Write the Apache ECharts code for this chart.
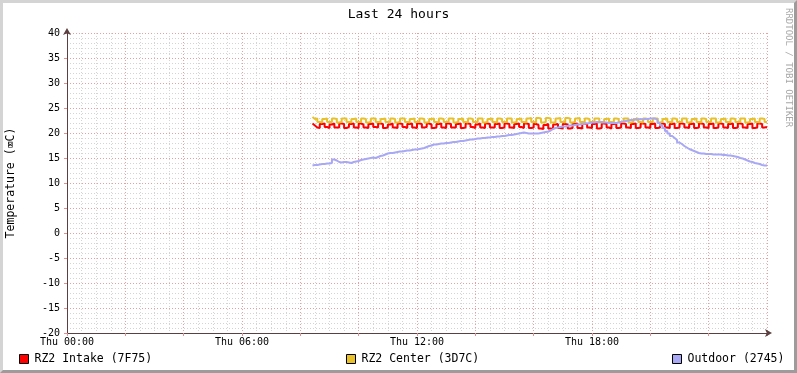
<!DOCTYPE html>
<html>
<head>
<meta charset="utf-8">
<script src="https://cdn.jsdelivr.net/npm/echarts@6/dist/echarts.min.js"></script>
<style>
html,body{margin:0;padding:0;background:#fff;}
#wrap{position:relative;width:797px;height:373px;}
#chart{position:absolute;left:0;top:0;width:797px;height:373px;}
#frame{position:absolute;left:0;top:0;width:797px;height:373px;box-sizing:border-box;border-style:solid;border-width:3px;border-color:#d4d4d4 #9c9c9c #9c9c9c #d4d4d4;pointer-events:none;}
</style>
</head>
<body>
<div id="wrap"><div id="chart"></div><div id="frame"></div></div>
<script>
// ---- data ----
const titleText = 'Last 24 hours';
const yAxisName = 'Temperature (\u2327C)';
const xTickLabels = {0:'Thu 00:00', 360:'Thu 06:00', 720:'Thu 12:00', 1080:'Thu 18:00'};
const seriesNames = ['RZ2 Intake (7F75)', 'RZ2 Center (3D7C)', 'Outdoor (2745)'];
const startMinute = 505;   // first sample (minutes since Thu 00:00)
const stepMinutes = 5;     // sample step

const intake = [
21.9,21.5,21.1,21.0, 21.8,21.9,21.2,21.0, 21.7,21.9,21.1,21.1, 21.9,21.8,21.0,21.2, 21.8,21.9,21.1,21.0,
21.9,21.7,21.1,21.0, 21.8,21.9,21.2,21.1, 21.9,21.8,21.0,21.1, 21.7,21.9,21.1,21.0, 21.9,21.8,21.2,21.0,
21.8,21.9,21.1,21.0, 21.9,21.8,21.1,21.2, 21.9,21.7,21.0,21.1, 21.8,21.9,21.1,21.0, 21.9,21.8,21.1,21.1,
21.8,21.9,21.0,21.1, 21.9,21.8,21.2,21.0, 21.7,21.9,21.1,21.0, 21.9,21.8,21.1,21.1, 21.8,21.9,21.0,21.1,
21.9,21.8,21.1,21.0, 21.8,21.9,21.2,21.0, 21.9,21.8,21.0,21.1, 21.8,21.6,20.9,20.8, 21.6,21.8,20.9,20.8,
21.7,21.8,21.0,20.9, 21.8,21.7,20.9,21.0, 21.8,21.9,21.0,20.9, 21.9,21.8,21.1,21.0, 21.8,21.9,20.9,21.0,
21.9,21.8,21.1,20.9, 21.8,21.9,21.0,21.1, 21.9,21.8,21.1,21.0, 21.8,21.9,21.0,21.1, 21.9,21.8,21.1,21.0,
21.8,21.9,21.0,21.1, 21.9,21.8,21.1,21.0, 21.8,21.9,21.0,21.1, 21.9,21.8,21.1,21.0, 21.8,21.9,21.0,21.1,
21.9,21.8,21.1,21.0, 21.8,21.9,21.0,21.1, 21.9,21.8,21.1,21.0, 21.8,21.9,21.0,21.1, 21.9,21.8,21.1,21.0,
21.8,21.9,21.0,21.1, 21.9,21.8,21.1,21.2
];
const center = [
23.2,22.8,22.9,22.2, 22.1,22.8,22.9,22.2, 22.2,22.9,22.8,22.1, 22.2,22.9,22.9,22.2, 22.1,22.8,22.9,22.2,
22.2,22.9,22.8,22.1, 22.2,22.9,22.9,22.2, 22.1,22.8,22.9,22.2, 22.2,22.9,22.8,22.1, 22.2,22.9,22.9,22.2,
22.1,22.8,22.9,22.2, 22.2,22.9,22.8,22.1, 22.2,22.8,22.9,22.2, 22.1,22.9,22.8,22.2, 22.2,22.9,22.9,22.1,
22.2,22.8,22.9,22.2, 22.1,22.9,22.8,22.2, 22.2,22.9,22.9,22.1, 22.2,22.8,22.9,22.2, 22.1,22.9,22.8,22.2,
22.2,22.9,22.9,22.1, 22.2,22.8,22.9,22.2, 22.1,22.9,23.0,22.2, 22.1,23.0,22.9,22.1, 22.2,23.0,22.9,22.1,
22.1,22.9,23.0,22.2, 22.1,23.0,22.9,22.1, 22.2,22.9,23.0,22.2, 22.1,22.9,22.8,22.2, 22.2,22.9,22.9,22.1,
22.2,22.8,22.9,22.2, 22.1,22.9,22.8,22.2, 22.2,22.9,22.9,22.1, 22.2,22.8,22.9,22.2, 22.1,22.9,22.8,22.2,
22.2,22.9,22.9,22.1, 22.2,22.8,22.9,22.2, 22.1,22.9,22.8,22.2, 22.2,22.9,22.9,22.1, 22.2,22.8,22.9,22.2,
22.1,22.9,22.8,22.2, 22.2,22.9,22.9,22.1, 22.2,22.8,22.9,22.2, 22.1,22.9,22.8,22.2, 22.2,22.9,22.9,22.1,
22.2,22.8,22.9,22.2, 22.1,22.9,22.8,22.2
];
const outdoor = [
13.5,13.6,13.6,13.7,13.8,13.8,13.9,13.9,14.0,
14.7,14.5,14.2,14.1,14.2,14.2,14.1,14.0,14.2,14.3,
14.4,14.6,14.7,14.8,14.9,15.0,
15.1,15.0,15.2,15.4,15.5,15.7,15.9,
16.0,16.0,16.1,16.2,16.3,16.3,16.4,
16.5,16.5,16.6,16.7,16.7,16.8,16.9,
17.0,17.2,17.4,17.5,17.7,
17.7,17.8,17.9,17.9,18.0,18.0,18.1,18.2,
18.2,18.3,18.4,18.4,18.5,18.6,18.7,
18.7,18.8,18.9,18.9,19.0,19.0,19.1,
19.1,19.2,19.2,19.3,19.3,19.4,19.4,
19.5,19.6,19.6,19.7,19.8,19.9,20.0,20.1,
20.0,19.9,19.9,19.9,19.9,19.9,
20.0,20.1,20.2,20.3,20.5,20.8,21.0,
21.1,21.2,21.3,21.3,21.4,21.5,21.5,21.6,21.7,
21.7,21.8,21.9,21.9,22.0,22.1,22.1,22.2,
22.2,22.2,22.1,22.1,22.0,22.0,22.0,22.0,
22.1,22.2,22.3,22.4,22.5,22.6,22.6,22.7,
22.7,22.8,22.7,22.8,22.8,22.9,22.9,22.9,
22.6,22.0,21.5,21.0,20.4,19.9,19.4,19.0,18.6,18.1,
17.8,17.4,17.1,16.8,16.6,16.4,16.2,16.0,
15.9,15.9,15.8,15.8,15.8,15.7,15.7,15.7,15.7,
15.6,15.6,15.5,15.5,15.4,15.3,15.2,
15.0,14.9,14.7,14.5,14.3,14.2,
14.0,13.9,13.8,13.6,13.5,13.5
];
const colors = ['#FF0000', '#E8C12A', '#A8A8F4'];

// ---- build ----
function pairs(vals){ return vals.map((v,i)=>[startMinute + i*stepMinutes, v]); }
const FONT = '"DejaVu Sans Mono", monospace';
const chart = echarts.init(document.getElementById('chart'), null, {renderer:'canvas'});
const allData = [intake, center, outdoor];
const legendLefts = [14, 341, 667];

chart.setOption({
  animation:false,
  backgroundColor:'#ffffff',
  title:{text:titleText, left:'center', top:3, textStyle:{fontFamily:FONT, fontSize:13, fontWeight:'normal', color:'#000'}},
  grid:{left:67, top:33, width:700, height:300, containLabel:false, outerBoundsMode:'none'},
  legend: seriesNames.map((n,i)=>({
    data:[n], left:legendLefts[i], top:348, icon:'rect', itemWidth:9, itemHeight:9, itemGap:6,
    itemStyle:{borderColor:'#000', borderWidth:1},
    textStyle:{fontFamily:FONT, fontSize:11.5, color:'#000', padding:[0,0,0,1]},
    selectedMode:false
  })),
  xAxis:{
    type:'value', min:0, max:1440, interval:120,
    axisLine:{show:true, onZero:false, lineStyle:{color:'#5a4040', width:1}, symbol:['none','arrow'], symbolSize:[6,7], symbolOffset:[0,5]},
    axisTick:{show:true, length:3, lineStyle:{color:'#e09090'}},
    axisLabel:{margin:4, fontFamily:FONT, fontSize:10, color:'#000',
      formatter:v=> (xTickLabels[v] !== undefined ? xTickLabels[v] : '')},
    splitLine:{show:true, lineStyle:{color:'#e6a0a0', type:[1,2], width:1}},
    minorTick:{show:false, splitNumber:4},
    minorSplitLine:{show:true, lineStyle:{color:'#d4d4d4', type:[1,2], width:1}}
  },
  yAxis:{
    type:'value', min:-20, max:40, interval:5,
    name:yAxisName, nameLocation:'middle', nameGap:50, nameRotate:90,
    nameTextStyle:{fontFamily:FONT, fontSize:11.5, color:'#000'},
    axisLine:{show:true, onZero:false, lineStyle:{color:'#5a4040', width:1}, symbol:['none','arrow'], symbolSize:[6,7], symbolOffset:[0,5]},
    axisTick:{show:true, length:3, lineStyle:{color:'#e09090'}},
    axisLabel:{margin:7, fontFamily:FONT, fontSize:10, color:'#000'},
    splitLine:{show:true, lineStyle:{color:'#e6a0a0', type:[1,2], width:1}},
    minorTick:{show:false, splitNumber:5},
    minorSplitLine:{show:true, lineStyle:{color:'#d4d4d4', type:[1,2], width:1}}
  },
  graphic:[{
    type:'text', x:788, y:8, rotation:-Math.PI/2,
    style:{text:'RRDTOOL / TOBI OETIKER', fontFamily:FONT, fontSize:9, fill:'#a8a8a8', align:'left', verticalAlign:'middle'}
  }],
  series: allData.map((d,i)=>({
    name:seriesNames[i], type:'line', step:'start', showSymbol:false, symbol:'none',
    data:pairs(d), lineStyle:{width:2, color:colors[i]}, itemStyle:{color:colors[i]},
    z:2+i
  }))
});
</script>
</body>
</html>
